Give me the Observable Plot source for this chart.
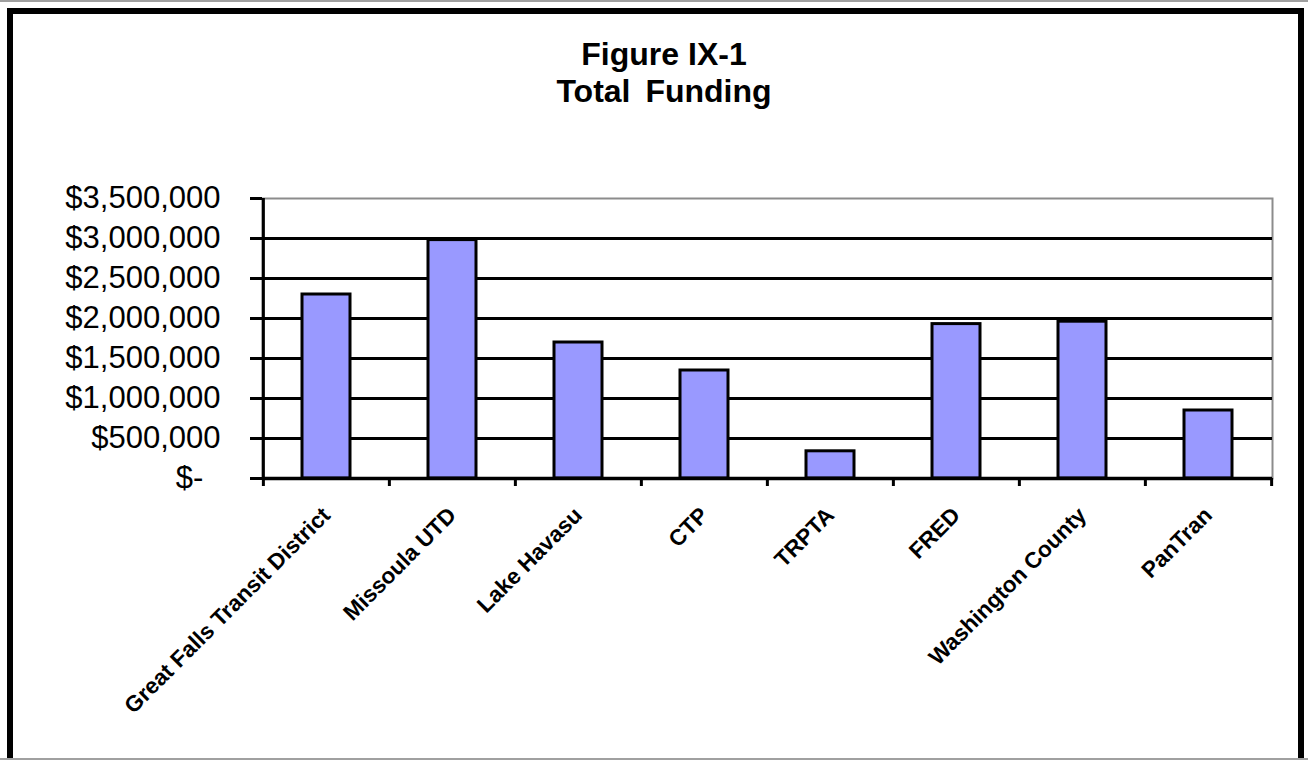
<!DOCTYPE html>
<html><head><meta charset="utf-8">
<script src="https://cdn.jsdelivr.net/npm/d3@7"></script>
<script src="https://cdn.jsdelivr.net/npm/@observablehq/plot@0.6"></script>
<style>
html,body{margin:0;padding:0;background:#fff;}
#wrap{position:relative;width:1308px;height:760px;overflow:hidden;background:#fff;font-family:"Liberation Sans",Arial,sans-serif;}
#topline{position:absolute;left:0;top:0;width:1308px;height:2px;background:#a0a0a0;}
#botline{position:absolute;left:0;top:758px;width:1308px;height:2px;background:#a0a0a0;}
#frame{position:absolute;left:7px;top:8px;width:1297px;height:800px;border:6px solid #000;box-sizing:border-box;}
#title{position:absolute;left:20px;width:1288px;top:36px;text-align:center;font-weight:bold;font-size:32px;line-height:37px;color:#000;}
#title .l2{word-spacing:6px;}
#chart{position:absolute;left:0;top:0;}
</style></head>
<body>
<div id="wrap">
  <div id="topline"></div>
  <div id="frame"></div>
  <div id="botline"></div>
  <div id="chart"></div>
  <div id="title"><div>Figure IX-1</div><div class="l2">Total Funding</div></div>
</div>
<script>
const names = ["Great Falls Transit District","Missoula UTD","Lake Havasu","CTP","TRPTA","FRED","Washington County","PanTran"];
const values = [2300000, 2980000, 1700000, 1350000, 340000, 1930000, 1960000, 850000];
const yTicks = [0, 500000, 1000000, 1500000, 2000000, 2500000, 3000000, 3500000];
const gridTicks = [500000, 1000000, 1500000, 2000000, 2500000, 3000000];

const data = names.map((n, i) => ({name: n, value: values[i]}));

const W = 1308, H = 760, ML = 262, MR = 36, MT = 198, MB = 282;
const step = (W - ML - MR) / names.length;
const fmt = d3.format(",");
const yFormat = d => d === 0 ? "$-\u00a0\u00a0" : "$" + fmt(d);

const chart = Plot.plot({
  width: W, height: H,
  marginLeft: ML, marginRight: MR, marginTop: MT, marginBottom: MB,
  style: {background: "transparent", fontFamily: "'Liberation Sans', Arial, sans-serif", color: "#000", overflow: "visible"},
  x: {domain: names, paddingInner: 0.62, paddingOuter: 0.31, axis: null},
  y: {domain: [0, 3500000], axis: null},
  marks: [
    Plot.frame({stroke: "#8c8c8c", strokeWidth: 2}),
    Plot.ruleY(gridTicks, {stroke: "#000", strokeWidth: 3}),
    Plot.barY(data, {x: "name", y: "value", fill: "#9999ff", stroke: "#000", strokeWidth: 3}),
    Plot.ruleY([0], {stroke: "#000", strokeWidth: 3.5}),
    Plot.ruleX([names[0]], {dx: -step / 2, stroke: "#000", strokeWidth: 3}),
    Plot.axisY({ticks: yTicks, tickSize: 12, tickPadding: 30, tickFormat: yFormat, fontSize: 31, strokeWidth: 3, label: null}),
    Plot.axisX(names, {tickSize: 8, tickFormat: () => "", dx: -step / 2, strokeWidth: 3, label: null}),
    Plot.axisX([names[names.length - 1]], {tickSize: 8, tickFormat: () => "", dx: step / 2, strokeWidth: 3, label: null}),
    Plot.axisX({tickSize: 0, tickPadding: 33, tickRotate: -45, fontSize: 22.5, fontWeight: "bold", label: null})
  ]
});
document.getElementById("chart").appendChild(chart);
</script>
</body></html>
